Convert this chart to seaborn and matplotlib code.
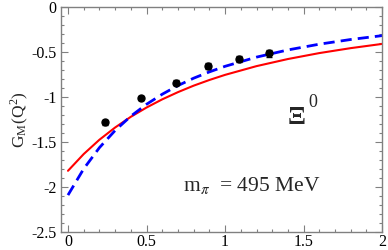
import numpy as np
import pandas as pd
import matplotlib
matplotlib.use("Agg")
import matplotlib.pyplot as plt
import seaborn as sns
from matplotlib.ticker import MultipleLocator

# Data
q2_curve = [0.0, 0.1, 0.2, 0.3, 0.4, 0.5, 0.6, 0.7, 0.8, 0.9, 1.0, 1.2, 1.4, 1.6, 1.8, 2.0]
red_curve = [-1.82, -1.634, -1.475, -1.339, -1.220, -1.117, -1.026, -0.946, -0.874, -0.811,
             -0.754, -0.657, -0.578, -0.512, -0.457, -0.410]
blue_curve = [-2.09, -1.798, -1.563, -1.372, -1.213, -1.081, -0.969, -0.873, -0.791, -0.721,
              -0.659, -0.557, -0.477, -0.413, -0.361, -0.318]

q2_points = [0.234, 0.462, 0.69, 0.89, 1.09, 1.28]
gm_points = [-1.28, -1.01, -0.84, -0.655, -0.58, -0.515]
gm_err = [0.03, 0.025, 0.03, 0.03, 0.035, 0.04]

sns.set_theme(style="ticks")
plt.rcParams['font.family'] = ['Liberation Serif', 'DejaVu Serif']
plt.rcParams['mathtext.fontset'] = 'stix'

fig = plt.figure(figsize=(3.88, 2.5), dpi=100)
ax = fig.add_axes([0.157, 0.072, 0.828, 0.9])

df = pd.DataFrame({"q2": q2_curve, "red": red_curve, "blue": blue_curve})
sns.lineplot(data=df, x="q2", y="red", ax=ax, color="#ff0000", linewidth=1.5)
sns.lineplot(data=df, x="q2", y="blue", ax=ax, color="#0000ff", linewidth=2.0,
             linestyle=(0, (4, 2.2)))
ax.errorbar(q2_points, gm_points, yerr=gm_err, fmt='o', color='black',
            markersize=5, elinewidth=1, capsize=2.5, capthick=1, zorder=5)

ax.set_xlim(-0.045, 2.0)
ax.set_ylim(-2.5, 0.0)
ax.xaxis.set_minor_locator(MultipleLocator(0.1))
ax.yaxis.set_minor_locator(MultipleLocator(0.1))
ax.set_xticks([0, 0.5, 1, 1.5, 2])
ax.set_xticklabels(['0', '0.5', '1', '1.5', '2'])
ax.set_yticks([0, -0.5, -1, -1.5, -2, -2.5])
ax.set_yticklabels(['0', '-0.5', '-1', '-1.5', '-2', '-2.5'])

ax.tick_params(which='both', direction='in', top=True, right=True, color='#808080',
               labelsize=11.5, labelcolor='black')
ax.tick_params(which='major', length=5, width=0.8, pad=3)
ax.tick_params(axis='x', which='major', pad=1.5)
ax.tick_params(which='minor', length=2.5, width=0.8)
for s in ax.spines.values():
    s.set_color('#808080')
    s.set_linewidth(1.0)

ax.set_xlabel('')
ax.set_ylabel(r'G$_{\mathregular{M}}$(Q$^{\mathregular{2}}$)', fontsize=12.5, labelpad=1)

ax.text(1.455, -1.225, '\u039e', fontsize=19, ha='center', va='center', fontweight='bold')
ax.text(1.56, -1.06, '0', fontsize=13, ha='center', va='center')
ax.text(0.73, -2.05, r'm$_{\pi}$  = 495 MeV', fontsize=15.5, ha='left', va='baseline')

fig.savefig("out.png", dpi=100)
